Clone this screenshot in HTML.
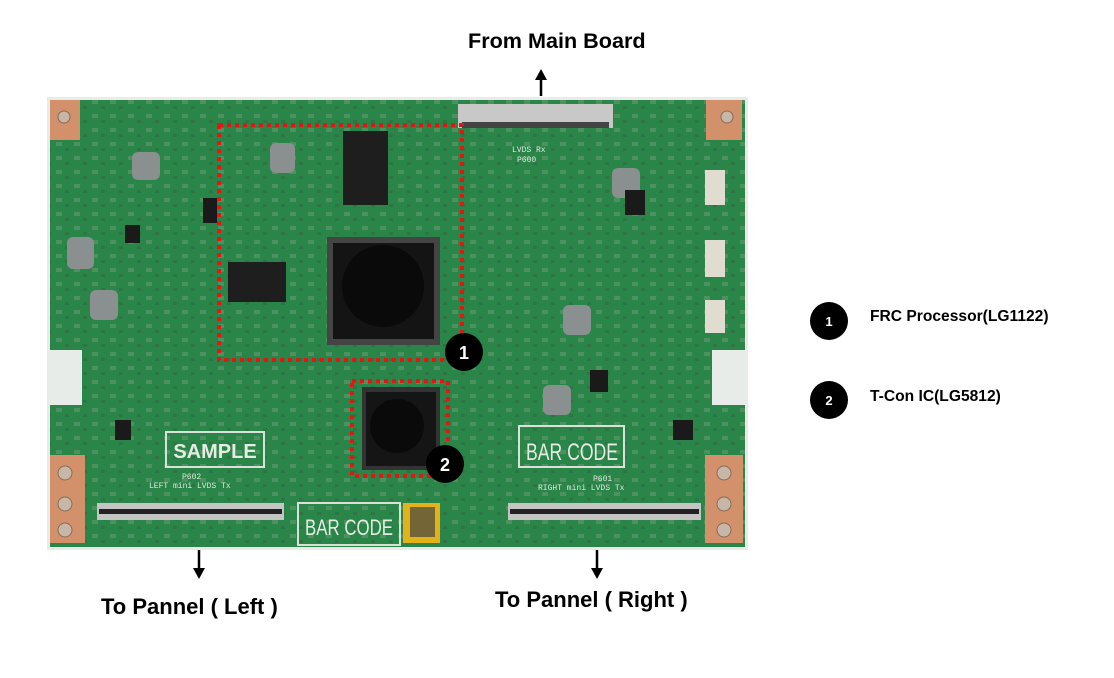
<!DOCTYPE html>
<html><head><style>
body{margin:0;width:1114px;height:678px;background:#fff;overflow:hidden;font-family:"Liberation Sans",sans-serif;}
.t{position:absolute;font-weight:bold;color:#000;white-space:nowrap}
</style></head><body>
<div class="t" style="left:468px;top:28px;font-size:21.6px">From Main Board</div>
<div class="t" style="left:101px;top:594px;font-size:22px">To Pannel ( Left )</div>
<div class="t" style="left:495px;top:587px;font-size:22px">To Pannel ( Right )</div>
<div class="t" style="left:870px;top:308px;font-size:15.6px">FRC Processor(LG1122)</div>
<div class="t" style="left:870px;top:388px;font-size:15.6px">T-Con IC(LG5812)</div>
<svg width="1114" height="678" style="position:absolute;left:0;top:0">
<defs>
<pattern id="p" width="18" height="14" patternUnits="userSpaceOnUse">
<rect x="2" y="2" width="6" height="4" fill="#b8b8a8" opacity=".35"/>
<rect x="11" y="8" width="4" height="3" fill="#3a3a3a" opacity=".3"/>
</pattern>
</defs>
<line x1="541" y1="96" x2="541" y2="76" stroke="#000" stroke-width="2.5"/>
<polygon points="535,80 547,80 541,69" fill="#000"/>
<line x1="199" y1="550" x2="199" y2="572" stroke="#000" stroke-width="2.5"/>
<polygon points="193,568 205,568 199,579" fill="#000"/>
<line x1="597" y1="550" x2="597" y2="572" stroke="#000" stroke-width="2.5"/>
<polygon points="591,568 603,568 597,579" fill="#000"/>
<rect x="47" y="97" width="701" height="453" fill="#e8ece8"/>
<path d="M50,100 H745 V350 H712 V405 H745 V547 H50 V405 H82 V350 H50 Z" fill="#2a8548"/>
<rect x="50" y="100" width="695" height="447" fill="url(#p)" opacity=".7"/>
<rect x="47" y="350" width="35" height="55" fill="#e8ece8"/>
<rect x="712" y="350" width="36" height="55" fill="#e8ece8"/>
<rect x="50" y="100" width="30" height="40" fill="#d2916a"/>
<rect x="706" y="100" width="36" height="40" fill="#d2916a"/>
<rect x="50" y="455" width="35" height="88" fill="#d2916a"/>
<rect x="705" y="455" width="38" height="88" fill="#d2916a"/>
<g fill="#c7b7a8" stroke="#8a6a55"><circle cx="64" cy="117" r="6"/><circle cx="727" cy="117" r="6"/>
<circle cx="65" cy="473" r="7"/><circle cx="65" cy="504" r="7"/><circle cx="65" cy="530" r="7"/>
<circle cx="724" cy="473" r="7"/><circle cx="724" cy="504" r="7"/><circle cx="724" cy="530" r="7"/></g>
<rect x="458" y="104" width="155" height="24" fill="#c8c8c8"/><rect x="462" y="122" width="147" height="6" fill="#444"/>
<rect x="97" y="503" width="187" height="17" fill="#c4c4c4"/><rect x="99" y="509" width="183" height="5" fill="#222"/>
<rect x="508" y="503" width="193" height="17" fill="#c4c4c4"/><rect x="510" y="509" width="189" height="5" fill="#222"/>
<g fill="#8a8f8f"><rect x="132" y="152" width="28" height="28" rx="6"/><rect x="270" y="143" width="25" height="30" rx="6"/>
<rect x="67" y="237" width="27" height="32" rx="6"/><rect x="90" y="290" width="28" height="30" rx="6"/>
<rect x="612" y="168" width="28" height="30" rx="6"/><rect x="563" y="305" width="28" height="30" rx="6"/><rect x="543" y="385" width="28" height="30" rx="6"/></g>
<rect x="327" y="237" width="113" height="108" fill="#444"/><rect x="333" y="243" width="101" height="96" fill="#141414"/>
<circle cx="383" cy="286" r="41" fill="#0a0a0a"/>
<rect x="343" y="131" width="45" height="74" fill="#1e1e1e"/>
<rect x="228" y="262" width="58" height="40" fill="#1e1e1e"/>
<rect x="362" y="387" width="78" height="83" fill="#333"/><rect x="366" y="392" width="70" height="74" fill="#151515"/>
<circle cx="397" cy="426" r="27" fill="#0a0a0a"/>
<g fill="#1a1a1a"><rect x="625" y="190" width="20" height="25"/><rect x="125" y="225" width="15" height="18"/><rect x="115" y="420" width="16" height="20"/><rect x="673" y="420" width="20" height="20"/><rect x="203" y="198" width="14" height="25"/><rect x="590" y="370" width="18" height="22"/></g>
<g fill="#e0ddd0"><rect x="705" y="170" width="20" height="35"/><rect x="705" y="240" width="20" height="37"/><rect x="705" y="300" width="20" height="33"/></g>
<g fill="none" stroke="#d8e2d8" stroke-width="2"><rect x="166" y="432" width="98" height="35"/><rect x="519" y="426" width="105" height="41"/><rect x="298" y="503" width="102" height="42"/></g>
<text x="215" y="458" font-family="Liberation Sans" font-weight="bold" font-size="20" fill="#e4ece4" text-anchor="middle">SAMPLE</text>
<text x="526" y="460" font-family="Liberation Sans" font-size="24" fill="#e4ece4" textLength="92" lengthAdjust="spacingAndGlyphs">BAR CODE</text>
<text x="305" y="535" font-family="Liberation Sans" font-size="22" fill="#e4ece4" textLength="88" lengthAdjust="spacingAndGlyphs">BAR CODE</text>
<rect x="403" y="503" width="37" height="40" fill="#e3b21a"/><rect x="410" y="507" width="25" height="30" fill="#444" opacity=".7"/>
<g font-family="Liberation Mono" font-size="8" fill="#dfe8df"><text x="149" y="488">LEFT mini LVDS Tx</text><text x="538" y="490">RIGHT mini LVDS Tx</text><text x="182" y="479">P602</text><text x="593" y="481">P601</text><text x="512" y="152">LVDS Rx</text><text x="517" y="162">P600</text></g>
<g fill="none" stroke="#ee1111" stroke-width="4" stroke-dasharray="4,4"><rect x="219" y="125" width="243" height="235"/><rect x="352" y="381" width="96" height="95"/></g>
<g font-family="Liberation Sans" font-weight="bold" font-size="18" text-anchor="middle">
<circle cx="464" cy="352" r="19" fill="#000"/><text x="464" y="359" fill="#fff">1</text>
<circle cx="445" cy="464" r="19" fill="#000"/><text x="445" y="471" fill="#fff">2</text>
<circle cx="829" cy="321" r="19" fill="#000"/><text x="829" y="326" fill="#fff" font-size="13">1</text>
<circle cx="829" cy="400" r="19" fill="#000"/><text x="829" y="405" fill="#fff" font-size="13">2</text>
</g>
</svg>
</body></html>
